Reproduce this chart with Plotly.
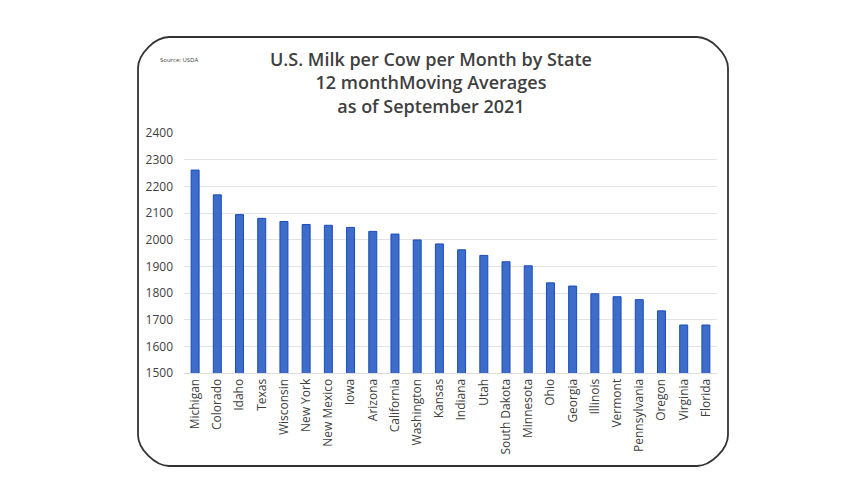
import plotly.graph_objects as go

states = ["Michigan", "Colorado", "Idaho", "Texas", "Wisconsin", "New York", "New Mexico",
          "Iowa", "Arizona", "California", "Washington", "Kansas", "Indiana", "Utah",
          "South Dakota", "Minnesota", "Ohio", "Georgia", "Illinois", "Vermont",
          "Pennsylvania", "Oregon", "Virginia", "Florida"]
milk_per_cow = [2261, 2168, 2094, 2080, 2068, 2057, 2054, 2046, 2031, 2021, 1999, 1984,
                1962, 1941, 1917, 1902, 1838, 1826, 1797, 1786, 1775, 1733, 1680, 1680]
y_ticks = [1500, 1600, 1700, 1800, 1900, 2000, 2100, 2200, 2300, 2400]

# page body has an 8px margin, so the figure sits at (8, 8) in the window
OFF = 8
W, H = 864 - OFF, 504 - OFF
L, R, T, B = 184 - OFF, 147, 133 - OFF, 131
pw, ph = W - L - R, H - T - B


def px(x):
    return (x - OFF - L) / pw


def py(y):
    return (H - B - (y - OFF)) / ph


# rounded frame around the chart, built in window pixels then mapped to paper
x0, x1, y0, y1, r = 138, 728, 37, 466, 31
k = 0.45 * r
pts = [
    ("M", [(x0 + r, y0)]),
    ("L", [(x1 - r, y0)]),
    ("C", [(x1 - r + k, y0), (x1, y0 + r - k), (x1, y0 + r)]),
    ("L", [(x1, y1 - r)]),
    ("C", [(x1, y1 - r + k), (x1 - r + k, y1), (x1 - r, y1)]),
    ("L", [(x0 + r, y1)]),
    ("C", [(x0 + r - k, y1), (x0, y1 - r + k), (x0, y1 - r)]),
    ("L", [(x0, y0 + r)]),
    ("C", [(x0, y0 + r - k), (x0 + r - k, y0), (x0 + r, y0)]),
]
path = " ".join(cmd + " " + " ".join(f"{px(a):.5f},{py(b):.5f}" for a, b in p) for cmd, p in pts) + " Z"

fig = go.Figure(go.Bar(
    x=states, y=milk_per_cow,
    marker=dict(color="#3d6cc9", line=dict(color="#1a4cbd", width=1)),
))

fig.update_layout(
    width=W, height=H,
    margin=dict(l=L, r=R, t=T, b=B),
    paper_bgcolor="white", plot_bgcolor="white",
    font=dict(family="Open Sans", color="#404040"),
    bargap=0.64,
    showlegend=False,
    shapes=[dict(type="path", path=path, xref="paper", yref="paper",
                 line=dict(color="#333333", width=1.8))],
    annotations=[
        dict(text="U.S. Milk per Cow per Month by State<br>12 monthMoving Averages<br>as of September 2021",
             x=px(431), y=py(82), xref="paper", yref="paper", xanchor="center", yanchor="middle",
             showarrow=False, font=dict(size=18, color="#404040", weight=600), align="center"),
        dict(text="Source: USDA", x=px(158), y=py(60), xref="paper", yref="paper",
             xanchor="left", yanchor="middle", showarrow=False,
             font=dict(size=6, color="#404040")),
    ],
)
fig.update_yaxes(range=[1500, 2400], tickvals=y_ticks, showgrid=True, gridcolor="#e4e4e4",
                 zeroline=False, showline=False, ticks="", ticklabelstandoff=10,
                 tickfont=dict(size=12, color="#404040"))
fig.update_xaxes(showline=True, linecolor="#dcdcdc", linewidth=1, tickangle=-90, ticks="",
                 tickfont=dict(size=12, color="#404040"))

fig.write_html("out.html")
